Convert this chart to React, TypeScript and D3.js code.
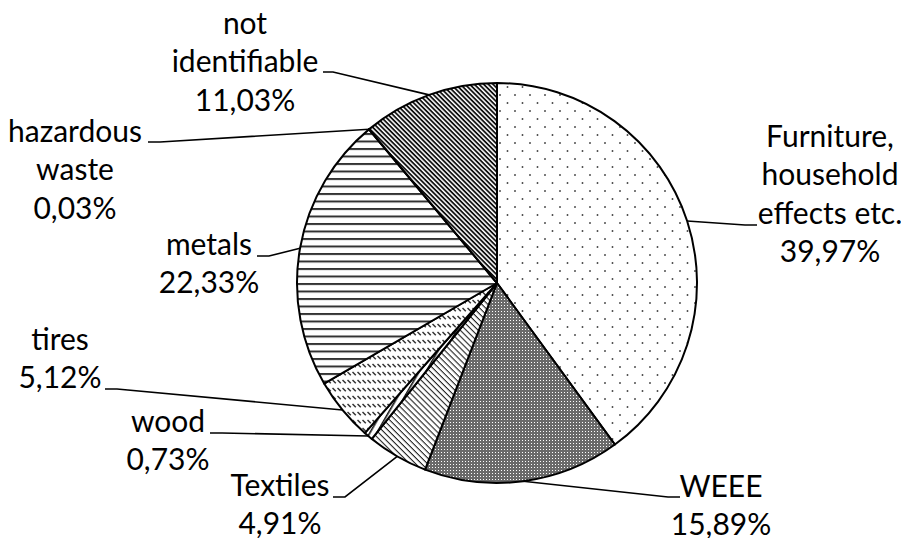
import React from "react";
import * as d3 from "d3";

// ---- data ----
const categories = [
  "Furniture, household effects etc.",
  "WEEE",
  "Textiles",
  "wood",
  "tires",
  "metals",
  "hazardous waste",
  "not identifiable",
];
const shares = [39.97, 15.89, 4.91, 0.73, 5.12, 22.33, 0.03, 11.03];
const labelLines = [
  ["Furniture,", "household", "effects etc."],
  ["WEEE"],
  ["Textiles"],
  ["wood"],
  ["tires"],
  ["metals"],
  ["hazardous", "waste"],
  ["not", "identifiable"],
];
const patternIds = ["pDots", "pGray", "pTextile", "pWood", "pTires", "pMetals", "pHaz", "pNotId"];

// ---- layout (label placement) ----
const labelLayout = [
  { cx: 830, y0: 147, lx: 757, ly: 225, dx: -12 },
  { cx: 721, y0: 497, lx: 680, ly: 497, dx: -12 },
  { cx: 280, y0: 496, lx: 333, ly: 497, dx: 12 },
  { cx: 168, y0: 432, lx: 210, ly: 433, dx: 12 },
  { cx: 60, y0: 350, lx: 105, ly: 389, dx: 12 },
  { cx: 209, y0: 255, lx: 257, ly: 256, dx: 12 },
  { cx: 75, y0: 142, lx: 148, ly: 142, dx: 12 },
  { cx: 245, y0: 34, lx: 323, ly: 72, dx: 10 },
];

const W = 901;
const H = 538;
const CX = 497;
const CY = 283;
const R = 200;
const LINE_H = 38.3;
const FONT = "Lato, 'Noto Sans', sans-serif";
const FS = 30;

const fmt = (v: number) => d3.format(".2f")(v).replace(".", ",") + "%";

export default function App() {
  const pie = d3
    .pie<number>()
    .sort(null)
    .value((d) => d)
    .startAngle(0)
    .endAngle(2 * Math.PI);
  const arcs = pie(shares);
  const arcGen = d3.arc<d3.PieArcDatum<number>>().innerRadius(0).outerRadius(R);

  return (
    <svg
      width={W}
      height={H}
      style={{ position: "absolute", left: 0, top: 0, background: "#fff" }}
    >
      <defs>
        <pattern id="pDots" patternUnits="userSpaceOnUse" width={15} height={16}>
          <rect width={15} height={16} fill="#fff" />
          <circle cx={3} cy={4} r={0.95} fill="#444" />
          <circle cx={10.5} cy={12} r={0.95} fill="#444" />
        </pattern>
        <pattern id="pGray" patternUnits="userSpaceOnUse" width={3} height={3}>
          <rect width={3} height={3} fill="#6a6a6a" />
          <rect x={1} y={1} width={1} height={1} fill="#fff" />
        </pattern>
        <pattern id="pTextile" patternUnits="userSpaceOnUse" width={4.2} height={4.2} patternTransform="rotate(45)">
          <rect width={4.2} height={4.2} fill="#fff" />
          <rect width={4.2} height={1.1} fill="#222" />
        </pattern>
        <pattern id="pNotId" patternUnits="userSpaceOnUse" width={3.3} height={3.3} patternTransform="rotate(45)">
          <rect width={3.3} height={3.3} fill="#fff" />
          <rect width={3.3} height={1.8} fill="#111" />
        </pattern>
        <pattern id="pWood" patternUnits="userSpaceOnUse" width={6} height={6} patternTransform="rotate(-60)">
          <rect width={6} height={6} fill="#fff" />
          <rect width={6} height={1.6} fill="#111" />
        </pattern>
        <pattern id="pTires" patternUnits="userSpaceOnUse" width={5} height={8}>
          <rect width={5} height={8} fill="#fff" />
          <line x1={0.5} y1={1} x2={3.8} y2={4.3} stroke="#333" strokeWidth={1.5} />
        </pattern>
        <pattern id="pMetals" patternUnits="userSpaceOnUse" width={10} height={7.5}>
          <rect width={10} height={7.5} fill="#fff" />
          <rect y={0} width={10} height={2} fill="#333" />
        </pattern>
        <pattern id="pHaz" patternUnits="userSpaceOnUse" width={4} height={4}>
          <rect width={4} height={4} fill="#fff" />
          <rect width={4} height={1} fill="#333" />
        </pattern>
      </defs>

      <g transform={`translate(${CX},${CY})`}>
        {arcs.map((a, i) => (
          <path
            key={categories[i]}
            d={arcGen(a) || ""}
            fill={`url(#${patternIds[i]})`}
            stroke="#000"
            strokeWidth={2}
            strokeLinejoin="round"
          />
        ))}
      </g>

      {arcs.map((a, i) => {
        const L = labelLayout[i];
        const mid = (a.startAngle + a.endAngle) / 2;
        const ex = CX + R * Math.sin(mid);
        const ey = CY - R * Math.cos(mid);
        const path = d3.path();
        path.moveTo(L.lx, L.ly);
        path.lineTo(L.lx + L.dx, L.ly);
        path.lineTo(ex, ey);
        return (
          <path
            key={"leader-" + i}
            d={path.toString()}
            fill="none"
            stroke="#000"
            strokeWidth={1.6}
          />
        );
      })}

      {labelLines.map((lines, i) => {
        const L = labelLayout[i];
        const all = [...lines, fmt(shares[i])];
        return (
          <text
            key={"label-" + i}
            x={L.cx}
            y={L.y0}
            textAnchor="middle"
            fontFamily={FONT}
            fontSize={FS}
            fill="#000"
          >
            {all.map((t, j) => (
              <tspan key={j} x={L.cx} y={L.y0 + j * LINE_H}>
                {t}
              </tspan>
            ))}
          </text>
        );
      })}
    </svg>
  );
}
